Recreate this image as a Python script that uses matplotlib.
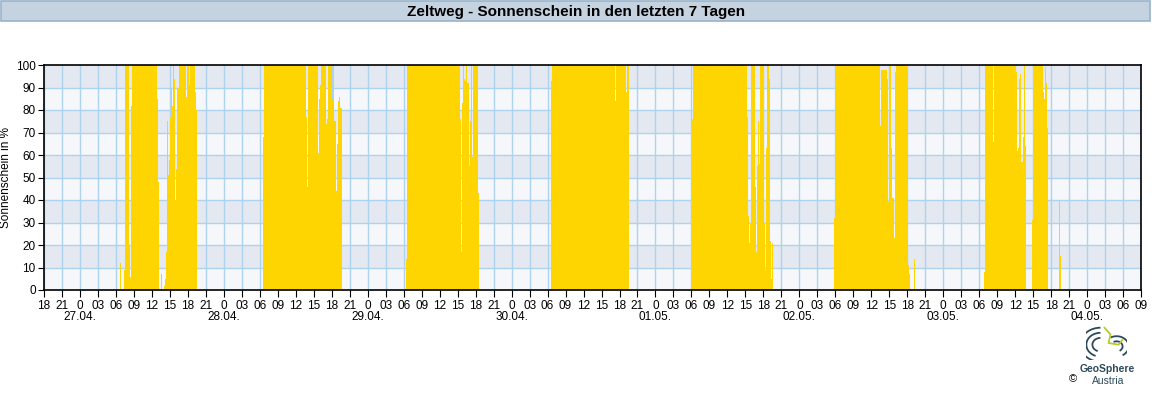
import datetime as dt
import matplotlib.pyplot as plt
import matplotlib.dates as mdates
import matplotlib.transforms as mtransforms
from matplotlib.patches import Rectangle, Arc

plt.rcParams['font.family'] = ['Liberation Sans', 'DejaVu Sans']

# 10-minute sunshine values (%) per day, starting at the given time
day_starts = ['2025-04-27 06:40', '2025-04-28 06:30', '2025-04-29 06:20', '2025-04-30 06:30',
              '2025-05-01 06:10', '2025-05-02 05:50', '2025-05-03 06:50']

sun_2704 = [12, 0, 0, 0, 9] + [100] * 4 + [20, 6, 82] + [100] * 25 + [85, 48, 0, 0, 7, 0, 0, 2, 5, 17,
            75, 51, 58, 77, 90, 82, 100, 94, 40, 54, 90, 90] + [100] * 7 + [86, 100, 100, 91] + \
           [100] * 5 + [88, 80]
sun_2804 = [68] + [100] * 42 + [77, 46] + [100] * 10 + [61, 85, 91] + [100] * 5 + [74, 76] + \
           [100] * 4 + [85, 100, 75, 75, 44, 65, 84, 86, 81, 81]
sun_2904 = [14] + [100] * 53 + [76, 17, 83, 100, 94, 93, 100, 92, 92, 55, 75, 100, 59] + \
           [100] * 5 + [43]
sun_3004 = [93] + [100] * 63 + [84] + [100] * 10 + [88, 100, 100, 20]
sun_0105 = [76] + [100] * 52 + [96, 100, 77, 33, 21, 30] + [100] * 4 + [46, 17, 55, 75, 56, 100, 100, 100,
            70, 30, 9, 63, 100, 100, 94, 22, 5, 21]
sun_0205 = [32] + [100] * 45 + [73] + [98] * 6 + [94, 39, 43, 100, 63, 41, 41, 23, 97] + [100] * 11 + \
           [83, 11, 7, 0, 0, 0, 0, 14]
sun_0305 = [8] + [100] * 8 + [66] + [100] * 21 + [81, 97, 62, 63, 94, 96, 57, 57, 68, 100, 64] + \
           [0] * 6 + [31] + [100] * 10 + [88, 85, 99, 92, 72] + [0] * 11 + [40, 15]

day_values = [sun_2704, sun_2804, sun_2904, sun_3004, sun_0105, sun_0205, sun_0305]

x_start = dt.datetime(2025, 4, 26, 18)
x_end = dt.datetime(2025, 5, 4, 9)
step = dt.timedelta(minutes=10)
bar_color = '#fed401'

fig = plt.figure(figsize=(11.52, 4), dpi=100)

# title bar
fig.patches.append(Rectangle((0.001, 0.947), 0.997, 0.05, transform=fig.transFigure,
                             facecolor='#c5d2df', edgecolor='#98b3cc', linewidth=1.2))
fig.text(0.5, 0.971, 'Zeltweg - Sonnenschein in den letzten 7 Tagen', ha='center', va='center',
         fontsize=11, fontweight='bold')

ax = fig.add_axes([0.0382, 0.275, 0.9523, 0.5625])

# striped background
for y0 in range(0, 100, 10):
    ax.axhspan(y0, y0 + 10, color='#e4e9f1' if (y0 // 10) % 2 else '#f5f7fa', lw=0, zorder=0)

ticks = []
t = x_start
while t <= x_end:
    ticks.append(t)
    t += dt.timedelta(hours=3)

for tk in ticks:
    ax.axvline(mdates.date2num(tk), color='#aed3ee', lw=1, zorder=1)
for y0 in range(10, 100, 10):
    ax.axhline(y0, color='#aed3ee', lw=1, zorder=1)

# 10-minute bars, drawn as one filled staircase per day so no seams show
for start, vals in zip(day_starts, day_values):
    t0 = dt.datetime.strptime(start, '%Y-%m-%d %H:%M')
    edges = [mdates.date2num(t0 + i * step) for i in range(len(vals) + 1)]
    ax.stairs(vals, edges, fill=True, color=bar_color, linewidth=0, zorder=2)

ax.set_xlim(mdates.date2num(x_start), mdates.date2num(x_end))
ax.set_ylim(0, 100)

labels = ['0' if tk.hour == 0 else '%02d' % tk.hour for tk in ticks]
ax.set_xticks([mdates.date2num(tk) for tk in ticks])
ax.set_xticklabels(labels, fontsize=8.5)
# date labels under each midnight
trans = mtransforms.blended_transform_factory(ax.transData, ax.transAxes)
for tk in ticks:
    if tk.hour == 0:
        ax.text(mdates.date2num(tk), -0.118, tk.strftime('%d.%m.'), transform=trans,
                ha='center', va='center', fontsize=8.5)

ax.set_yticks(range(0, 101, 10))
ax.tick_params(axis='y', labelsize=8.5, length=4, pad=2)
ax.tick_params(axis='x', length=5, pad=2)
ax.set_ylabel('Sonnenschein in %', fontsize=8.5, labelpad=3)
for sp in ax.spines.values():
    sp.set_linewidth(1.2)
    sp.set_zorder(5)

# logo
lax = fig.add_axes([0.943, 0.10, 0.035, 0.085])
lax.set_xlim(0, 1)
lax.set_ylim(0, 1)
lax.axis('off')
for r in [0.2, 0.35, 0.5]:
    lax.add_patch(Arc((0.35, 0.45), r * 2, r * 2, theta1=90, theta2=250, color='#2c4a5a', lw=1.3))
for r in [0.15, 0.3]:
    lax.add_patch(Arc((0.75, 0.4), r * 2, r * 2, theta1=-60, theta2=120, color='#2c4a5a', lw=1.3))
lax.plot([0.45, 0.6, 0.55, 0.8, 0.9], [0.95, 0.75, 0.5, 0.45, 0.6], color='#b5cc2e', lw=1.3)
fig.text(0.961, 0.077, 'GeoSphere', ha='center', va='center', fontsize=7.5, fontweight='bold',
         color='#2c4a5a')
fig.text(0.962, 0.047, 'Austria', ha='center', va='center', fontsize=7.5, color='#2c4a5a')
fig.text(0.931, 0.052, '©', ha='center', va='center', fontsize=8)

fig.savefig('out.png', dpi=100)
